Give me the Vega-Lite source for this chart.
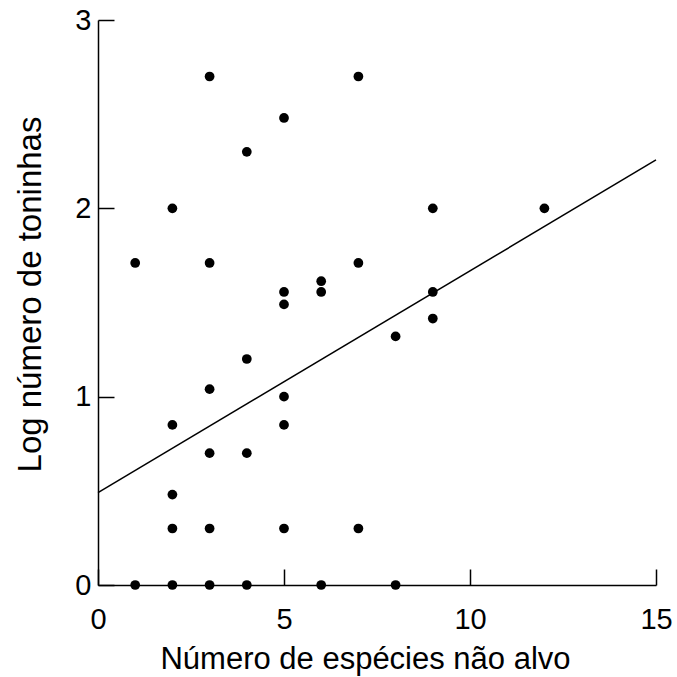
{
  "$schema": "https://vega.github.io/schema/vega-lite/v6.json",
  "autosize": {"type": "none"},
  "width": 558,
  "height": 565,
  "padding": {"left": 98, "top": 20, "right": 21, "bottom": 92},
  "background": "white",
  "config": {
    "view": {"stroke": null},
    "font": "Liberation Sans",
    "axis": {
      "grid": false,
      "domainColor": "black",
      "domainWidth": 1.5,
      "tickColor": "black",
      "tickWidth": 1.5,
      "tickSize": -16,
      "labelFont": "Liberation Sans",
      "labelFontSize": 29,
      "labelColor": "black",
      "labelFlush": false,
      "labelOverlap": false,
      "format": "d",
      "titleFont": "Liberation Sans",
      "titleFontSize": 31,
      "titleFontWeight": "normal",
      "titleColor": "black"
    }
  },
  "datasets": {
    "pts": [
      {"x": 1, "y": 0}, {"x": 1, "y": 1.71},
      {"x": 2, "y": 0}, {"x": 2, "y": 0.30}, {"x": 2, "y": 0.48}, {"x": 2, "y": 0.85}, {"x": 2, "y": 2.0},
      {"x": 3, "y": 0}, {"x": 3, "y": 0.30}, {"x": 3, "y": 0.70}, {"x": 3, "y": 1.04}, {"x": 3, "y": 1.71}, {"x": 3, "y": 2.70},
      {"x": 4, "y": 0}, {"x": 4, "y": 0.70}, {"x": 4, "y": 1.20}, {"x": 4, "y": 2.30},
      {"x": 5, "y": 0.30}, {"x": 5, "y": 0.85}, {"x": 5, "y": 1.0}, {"x": 5, "y": 1.49}, {"x": 5, "y": 1.556}, {"x": 5, "y": 2.48},
      {"x": 6, "y": 0}, {"x": 6, "y": 1.556}, {"x": 6, "y": 1.613},
      {"x": 7, "y": 0.30}, {"x": 7, "y": 1.71}, {"x": 7, "y": 2.70},
      {"x": 8, "y": 0}, {"x": 8, "y": 1.32},
      {"x": 9, "y": 1.415}, {"x": 9, "y": 1.556}, {"x": 9, "y": 2.0},
      {"x": 12, "y": 2.0}
    ],
    "fit": [
      {"x": 0, "y": 0.49},
      {"x": 15, "y": 2.257}
    ]
  },
  "layer": [
    {
      "data": {"name": "fit"},
      "mark": {"type": "line", "color": "black", "strokeWidth": 1.5, "clip": false},
      "encoding": {
        "x": {"field": "x", "type": "quantitative"},
        "y": {"field": "y", "type": "quantitative"}
      }
    },
    {
      "data": {"name": "pts"},
      "mark": {"type": "circle", "color": "black", "opacity": 1, "size": 95, "clip": false},
      "encoding": {
        "x": {
          "field": "x",
          "type": "quantitative",
          "scale": {"domain": [0, 15], "nice": false, "zero": false},
          "axis": {
            "values": [0, 5, 10, 15],
            "format": "d",
            "labelPadding": 36,
            "title": "Número de espécies não alvo",
            "titleX": 267,
            "titleY": 83,
            "titleBaseline": "alphabetic",
            "titleAlign": "center"
          }
        },
        "y": {
          "field": "y",
          "type": "quantitative",
          "scale": {"domain": [0, 3], "nice": false, "zero": false},
          "axis": {
            "values": [0, 1, 2, 3],
            "format": "d",
            "labelPadding": 23,
            "title": "Log número de toninhas",
            "titleFontSize": 33,
            "titleX": -58,
            "titleY": 274,
            "titleBaseline": "alphabetic",
            "titleAngle": -90
          }
        }
      }
    }
  ]
}
